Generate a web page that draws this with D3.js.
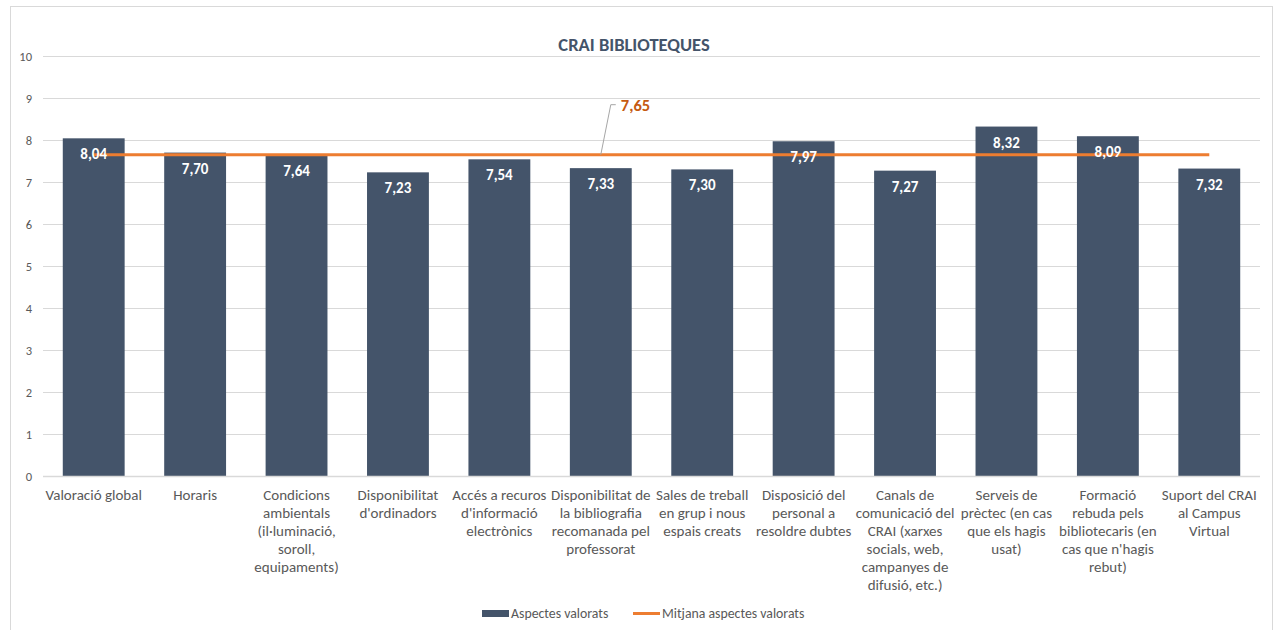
<!DOCTYPE html>
<html>
<head>
<meta charset="utf-8">
<script src="https://cdn.jsdelivr.net/npm/d3@7"></script>
<style>
  body { margin: 0; background: #fff; }
  svg text { font-family: Carlito, Lato, "Open Sans", sans-serif; }
</style>
</head>
<body>
<div id="chart"></div>
<script>
// data
const categories = [
  "Valoració global", "Horaris", "Condicions ambientals", "Disponibilitat d'ordinadors",
  "Accés a recuros d'informació electrònics", "Disponibilitat de la bibliografia recomanada pel professorat",
  "Sales de treball en grup i nous espais creats", "Disposició del personal a resoldre dubtes",
  "Canals de comunicació del CRAI", "Serveis de prèctec", "Formació rebuda pels bibliotecaris", "Suport del CRAI al Campus Virtual"
];
const tickLabels = [
  ["Valoració global"],
  ["Horaris"],
  ["Condicions", "ambientals", "(il·luminació,", "soroll,", "equipaments)"],
  ["Disponibilitat", "d'ordinadors"],
  ["Accés a recuros", "d'informació", "electrònics"],
  ["Disponibilitat de", "la bibliografia", "recomanada pel", "professorat"],
  ["Sales de treball", "en grup i nous", "espais creats"],
  ["Disposició del", "personal a", "resoldre dubtes"],
  ["Canals de", "comunicació del", "CRAI (xarxes", "socials, web,", "campanyes de", "difusió, etc.)"],
  ["Serveis de", "prèctec (en cas", "que els hagis", "usat)"],
  ["Formació", "rebuda pels", "bibliotecaris (en", "cas que n'hagis", "rebut)"],
  ["Suport del CRAI", "al Campus", "Virtual"]
];
const values = [8.04, 7.70, 7.64, 7.23, 7.54, 7.33, 7.30, 7.97, 7.27, 8.32, 8.09, 7.32];
const meanValue = 7.65;
const yTicks = [0, 1, 2, 3, 4, 5, 6, 7, 8, 9, 10];

const W = 1274, H = 630;
const margin = { top: 56, right: 14, bottom: 154, left: 43 };
const width = W - margin.left - margin.right;
const height = H - margin.top - margin.bottom;

const fmt = v => v.toFixed(2).replace(".", ",");

const svg = d3.select("#chart").append("svg")
  .attr("width", W).attr("height", H);

// outer chart border
svg.append("rect")
  .attr("x", 10.5).attr("y", 6.5)
  .attr("width", 1262).attr("height", 640)
  .attr("fill", "#fff").attr("stroke", "#d9d9d9");

const g = svg.append("g")
  .attr("transform", "translate(" + margin.left + "," + margin.top + ")");

const x = d3.scaleBand().domain(categories).range([0, width]).paddingInner(0.39).paddingOuter(0.195);
const y = d3.scaleLinear().domain([0, 10]).range([height, 0]);

// gridlines
g.append("g")
  .selectAll("line")
  .data(yTicks)
  .join("line")
  .attr("x1", 0).attr("x2", width)
  .attr("y1", d => Math.round(y(d)) + 0.5).attr("y2", d => Math.round(y(d)) + 0.5)
  .attr("stroke", "#d9d9d9").attr("stroke-width", 1);

// y axis
const yAxis = g.append("g")
  .call(d3.axisLeft(y).tickValues(yTicks).tickSize(0).tickPadding(11));
yAxis.select(".domain").remove();
yAxis.selectAll("text")
  .attr("fill", "#595959").style("font-size", "12.5px");

// bars
g.selectAll(".bar")
  .data(values)
  .join("rect")
  .attr("class", "bar")
  .attr("x", (d, i) => x(categories[i]))
  .attr("y", d => y(d))
  .attr("width", x.bandwidth())
  .attr("height", d => y(0) - y(d))
  .attr("fill", "#44546a");

// mean line
const meanLine = d3.line()
  .x(d => x(d) + x.bandwidth() / 2)
  .y(() => y(meanValue));
g.append("path")
  .datum(categories)
  .attr("d", meanLine)
  .attr("fill", "none")
  .attr("stroke", "#ed7d31")
  .attr("stroke-width", 3);

// bar labels
g.selectAll(".bar-label")
  .data(values)
  .join("text")
  .attr("class", "bar-label")
  .attr("x", (d, i) => x(categories[i]) + x.bandwidth() / 2)
  .attr("y", d => y(d) + 21)
  .attr("text-anchor", "middle")
  .attr("fill", "#fff")
  .style("font-size", "15px")
  .style("font-weight", "bold")
  .text(fmt);

// mean callout
const cx = x(categories[5]) + x.bandwidth() / 2;
const cy = y(meanValue);
g.append("path")
  .attr("d", "M" + cx + "," + cy + " L" + (cx + 10) + "," + (cy - 50) + " L" + (cx + 15) + "," + (cy - 50))
  .attr("fill", "none").attr("stroke", "#a6a6a6").attr("stroke-width", 1);
g.append("text")
  .attr("x", cx + 20).attr("y", cy - 44)
  .attr("fill", "#c55a11")
  .style("font-size", "16.5px").style("font-weight", "bold")
  .text(fmt(meanValue));

// x axis baseline
g.append("line")
  .attr("x1", 0).attr("x2", width)
  .attr("y1", height + 0.5).attr("y2", height + 0.5)
  .attr("stroke", "#d9d9d9").attr("stroke-width", 1.5);

// category labels
const xl = g.selectAll(".cat")
  .data(categories)
  .join("text")
  .attr("class", "cat")
  .attr("text-anchor", "middle")
  .attr("fill", "#595959")
  .style("font-size", "15px")
  .attr("transform", d => "translate(" + (x(d) + x.bandwidth() / 2) + "," + (height + 24) + ")");
xl.selectAll("tspan")
  .data((d, i) => tickLabels[i])
  .join("tspan")
  .attr("x", 0)
  .attr("dy", (d, i) => i === 0 ? 0 : 18)
  .text(d => d);

// title
svg.append("text")
  .attr("x", 634).attr("y", 51)
  .attr("text-anchor", "middle")
  .attr("fill", "#44546a")
  .style("font-size", "18.5px").style("font-weight", "bold")
  .text("CRAI BIBLIOTEQUES");

// legend
const leg = svg.append("g").attr("transform", "translate(482,613)");
leg.append("rect").attr("x", 0).attr("y", -3).attr("width", 27).attr("height", 7).attr("fill", "#44546a");
leg.append("text").attr("x", 29).attr("y", 5).attr("fill", "#595959").style("font-size", "13.8px").text("Aspectes valorats");
leg.append("line").attr("x1", 151).attr("x2", 178).attr("y1", 0.5).attr("y2", 0.5)
  .attr("stroke", "#ed7d31").attr("stroke-width", 3);
leg.append("text").attr("x", 180).attr("y", 5).attr("fill", "#595959").style("font-size", "13.8px").text("Mitjana aspectes valorats");
</script>
</body>
</html>
